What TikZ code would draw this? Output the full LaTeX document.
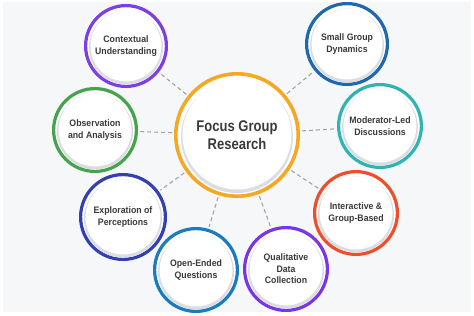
\documentclass[tikz,border=0pt]{standalone}
\usepackage{fontspec}
\setmainfont{Liberation Sans}
\newfontfamily\satfont[FakeStretch=0.93]{Liberation Sans}
\newfontfamily\ctrfont[FakeStretch=0.84]{Liberation Sans}
\definecolor{bgpanel}{HTML}{F6F7F9}
\definecolor{txt}{HTML}{3A3A3A}
\definecolor{shadowc}{HTML}{DCDDE2}
\definecolor{conncol}{HTML}{A3A3A3}
\definecolor{corange}{HTML}{F5A823}
\definecolor{cpurpleA}{HTML}{7B3FE4}
\definecolor{cgreen}{HTML}{45A449}
\definecolor{cindigo}{HTML}{3440B2}
\definecolor{copenblue}{HTML}{1B7BBF}
\definecolor{cpurpleB}{HTML}{7A35E6}
\definecolor{credor}{HTML}{EE4F2B}
\definecolor{cteal}{HTML}{2DB4B3}
\definecolor{cblue}{HTML}{1D68AE}
\tikzset{
  satnode/.style={circle,inner sep=0pt,outer sep=0pt,align=center,text=txt,
    font=\satfont\bfseries\fontsize{9.4}{11.6}\selectfont},
  ctrnode/.style={circle,inner sep=0pt,outer sep=0pt,align=center,text=txt,
    font=\ctrfont\bfseries\fontsize{15.5}{18.5}\selectfont},
  conn/.style={draw=conncol,line width=1.1pt,dash pattern=on 4pt off 3pt,
    shorten <=2pt,shorten >=2pt}
}
\newcommand\mysat[6]{%
  \draw[line width=3.2pt,draw=#5,fill=white] (#2,#3) circle[radius=#4pt-1.6pt];
  \fill[shadowc] (#2,#3+1.6) circle[radius=#4pt-5pt];
  \fill[white] (#2,#3) circle[radius=#4pt-6.6pt];
  \node[satnode,minimum size=2*#4pt] (#1) at (#2,#3) {#6};
}
\begin{document}
\begin{tikzpicture}[x=1pt,y=-1pt]
\useasboundingbox (0,0) rectangle (474,316);
\fill[white] (0,0) rectangle (474,316);
\fill[bgpanel] (3,2) rectangle (471,312);
% center
\draw[line width=3.6pt,draw=corange,fill=white] (237,135) circle[radius=61.2pt];
\fill[shadowc] (237,137) circle[radius=56pt];
\fill[white] (237,135) circle[radius=54.5pt];
\node[ctrnode,minimum size=126pt] (ctr) at (237,135) {Focus Group\\Research};
% satellites
\mysat{s1}{126}{46}{42}{cpurpleA}{Contextual\\Understanding}
\mysat{s2}{95}{130}{43}{cgreen}{Observation\\and Analysis}
\mysat{s3}{123}{217}{44}{cindigo}{Exploration of\\Perceptions}
\mysat{s4}{196}{270}{43}{copenblue}{Open-Ended\\Questions}
\mysat{s5}{286}{269}{43}{cpurpleB}{Qualitative\\Data\\Collection}
\mysat{s6}{356}{213}{43}{credor}{Interactive \&\\Group-Based}
\mysat{s7}{380}{126}{43}{cteal}{Moderator-Led\\Discussions}
\mysat{s8}{347}{44}{42}{cblue}{Small Group\\Dynamics}
% connectors
\foreach \s in {s1,s2,s3,s4,s5,s6,s7,s8}
  \draw[conn] (ctr) -- (\s);
\end{tikzpicture}
\end{document}
